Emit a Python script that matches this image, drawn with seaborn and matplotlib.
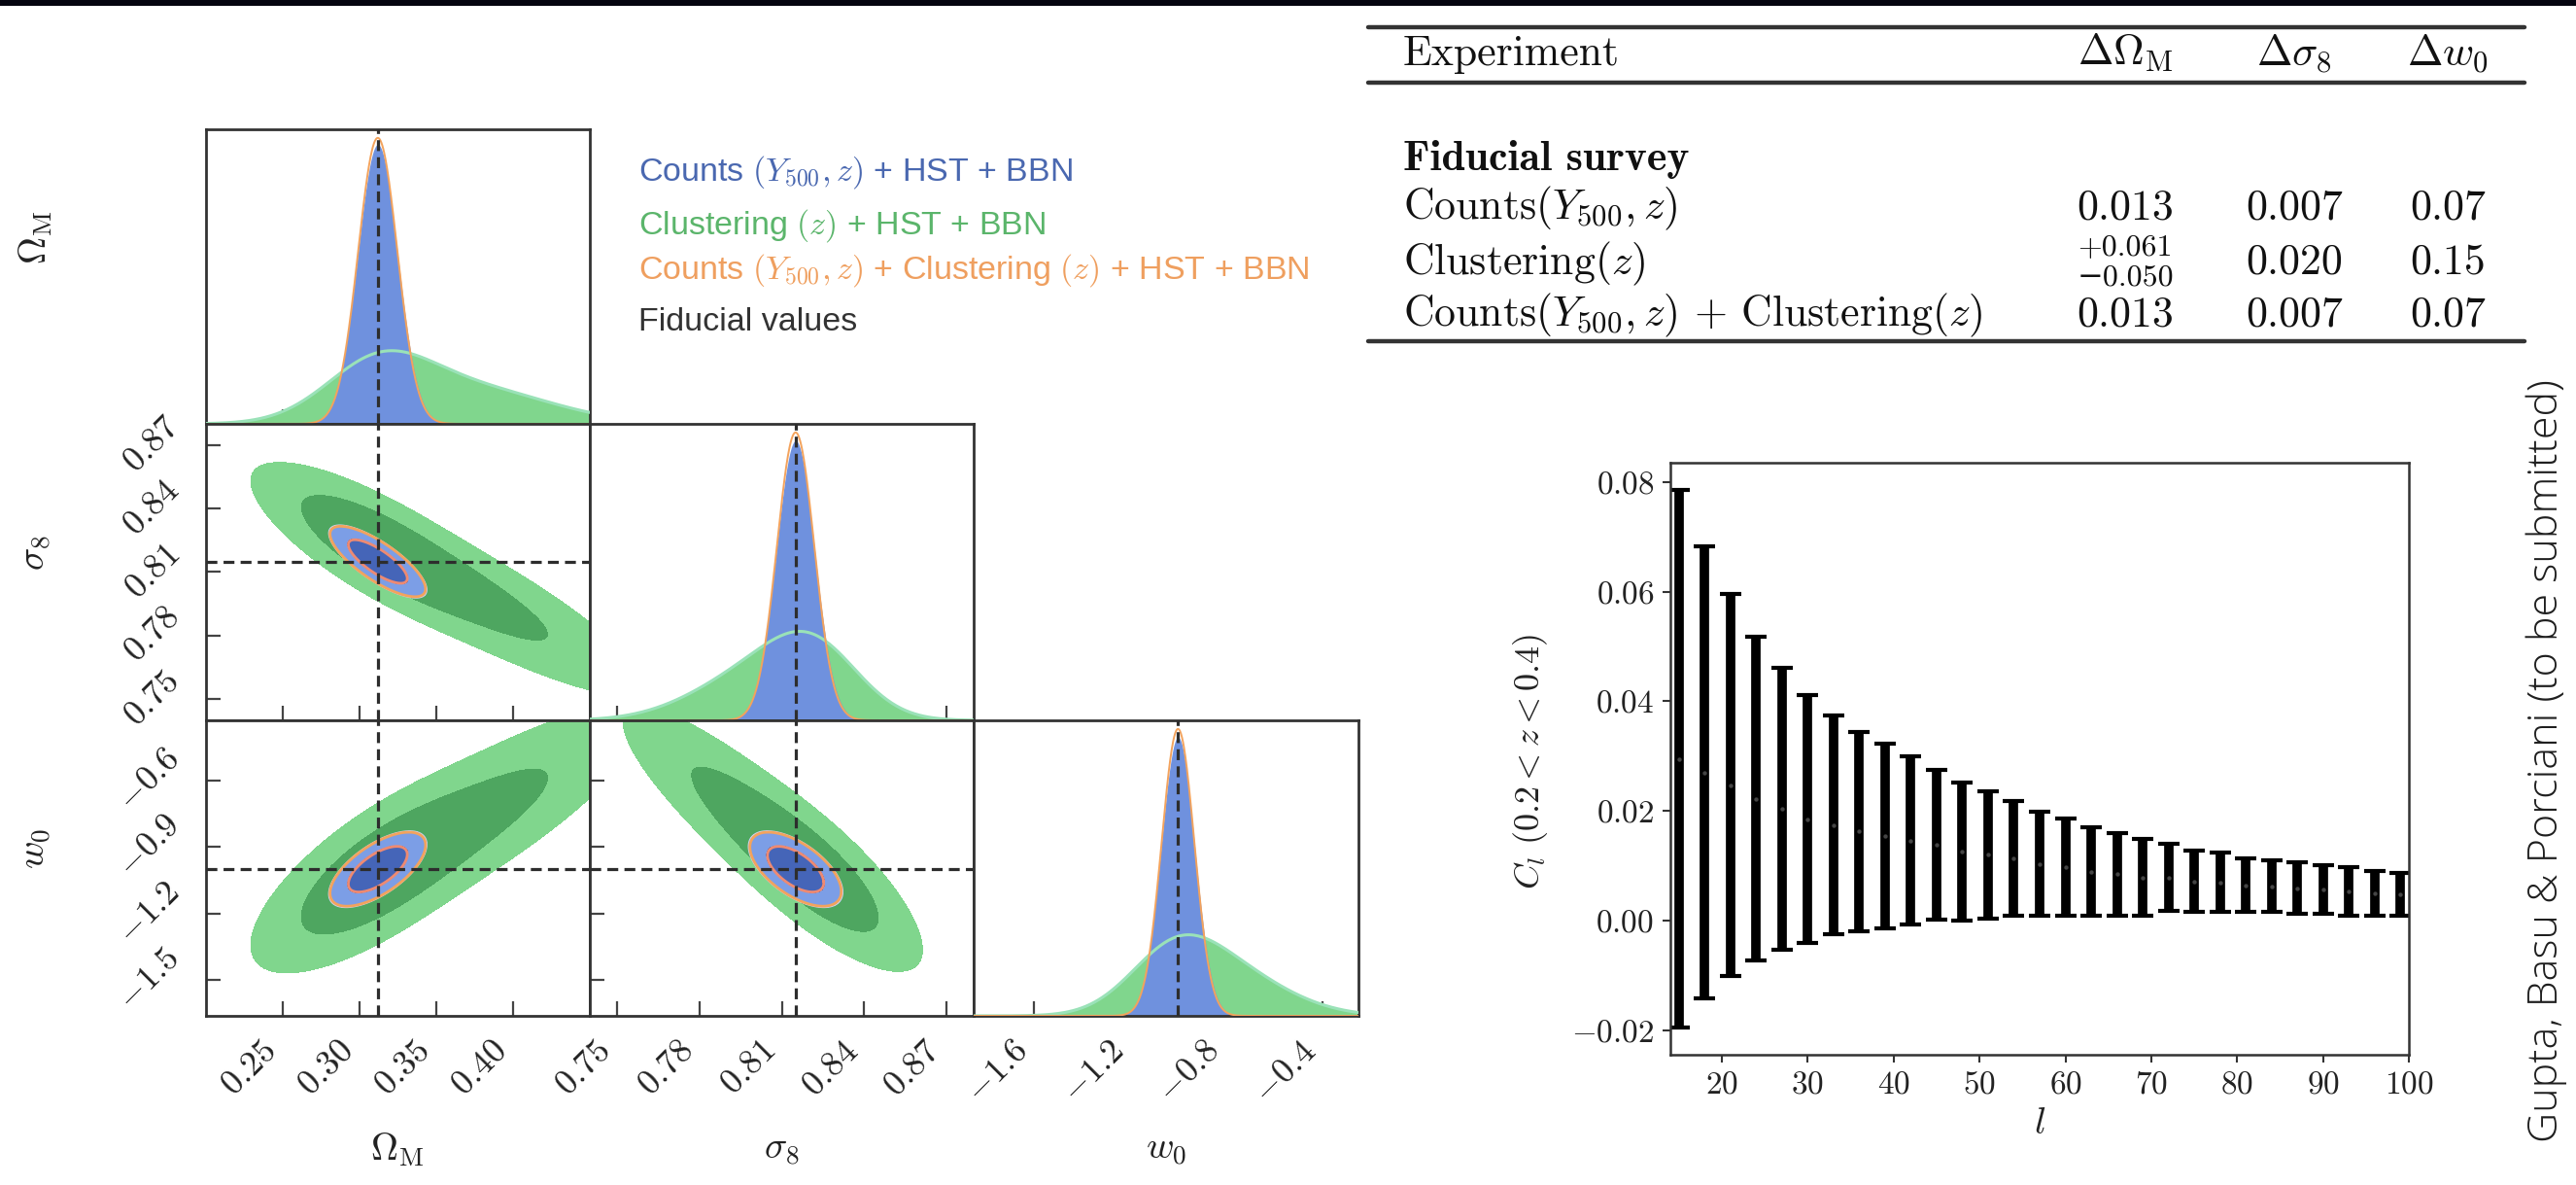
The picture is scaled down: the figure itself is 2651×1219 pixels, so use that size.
import numpy as np
import matplotlib
matplotlib.use('Agg')
import matplotlib.pyplot as plt
import seaborn as sns
from matplotlib.lines import Line2D
from matplotlib.patches import Rectangle
from matplotlib.ticker import FixedLocator, NullLocator

# ------------------------------------------------------------------ data
param_labels = [r'$\Omega_{\rm M}$', r'$\sigma_8$', r'$w_0$']
fiducial = [0.312, 0.815, -1.0]
x_lims = [(0.20, 0.45), (0.74, 0.88), (-1.85, -0.25)]
y_lims = [None, (0.74, 0.88), (-1.66, -0.33)]
x_ticks = [[0.25, 0.30, 0.35, 0.40], [0.75, 0.78, 0.81, 0.84, 0.87], [-1.6, -1.2, -0.8, -0.4]]
y_ticks = [None, [0.75, 0.78, 0.81, 0.84, 0.87], [-1.5, -1.2, -0.9, -0.6]]

# Counts (Y500, z) + HST + BBN : Gaussian forecast (sigmas from the table)
counts_sigma = [0.013, 0.007, 0.07]
counts_corr = [[1.0, -0.78, 0.65], [-0.78, 1.0, -0.6], [0.65, -0.6, 1.0]]
# Counts + Clustering
combined_sigma = [0.0127, 0.0068, 0.068]
combined_corr = [[1.0, -0.78, 0.65], [-0.78, 1.0, -0.6], [0.65, -0.6, 1.0]]
# Clustering (z) + HST + BBN : skewed Omega_M marginal, sigma8 / w0 degenerate with Omega_M
clust_om_means = [0.312, 0.372]
clust_om_sigmas = [0.034, 0.052]
clust_om_weights = [0.5, 0.5]
clust_s8_line = [0.822, -0.375]   # value at fiducial Omega_M, slope
clust_w0_line = [-1.02, 3.9]
clust_cond_sigma = [0.0105, 0.13]
clust_cond_corr = -0.5

legend_labels = [r'Counts $(Y_{500}, z)$ + HST + BBN',
                 r'Clustering $(z)$ + HST + BBN',
                 r'Counts $(Y_{500}, z)$ + Clustering $(z)$ + HST + BBN',
                 'Fiducial values']

# angular power spectrum forecast
ell = [15, 18, 21, 24, 27, 30, 33, 36, 39, 42, 45, 48, 51, 54, 57, 60, 63, 66, 69, 72,
       75, 78, 81, 84, 87, 90, 93, 96, 99]
cl = [0.0295, 0.0270, 0.0247, 0.0222, 0.0204, 0.0185, 0.0174, 0.0162, 0.0154, 0.0146,
      0.0138, 0.0126, 0.0120, 0.0113, 0.0103, 0.0097, 0.0089, 0.0084, 0.0078, 0.0078,
      0.0071, 0.0069, 0.0064, 0.0062, 0.0059, 0.0056, 0.0053, 0.0050, 0.0048]
cl_err = [0.0491, 0.0413, 0.0349, 0.0295, 0.0257, 0.0227, 0.0200, 0.0182, 0.0168, 0.0153,
          0.0136, 0.0126, 0.0116, 0.0105, 0.0095, 0.0089, 0.0081, 0.0076, 0.0070, 0.0061,
          0.0056, 0.0054, 0.0049, 0.0047, 0.0047, 0.0044, 0.0044, 0.0041, 0.0039]

# table
table_header = ['Experiment', r'$\Delta\Omega_{\rm M}$', r'$\Delta\sigma_8$', r'$\Delta w_0$']
table_section = 'Fiducial survey'
table_rows = [r'Counts$(Y_{500}, z)$', r'Clustering$(z)$', r'Counts$(Y_{500}, z)$ + Clustering$(z)$']
table_dom = ['0.013', None, '0.013']
table_dom_asym = ['+0.061', '\u22120.050']
table_ds8 = ['0.007', '0.020', '0.007']
table_dw0 = ['0.07', '0.15', '0.07']

credit = 'Gupta, Basu & Porciani (to be submitted)'

# ------------------------------------------------------------------ style
sns.set_theme(style='ticks')
plt.rcParams.update({
    'font.family': ['cmr10', 'DejaVu Serif'],
    'mathtext.fontset': 'cm',
    'axes.formatter.use_mathtext': True,
    'axes.unicode_minus': True,
    'axes.linewidth': 2.0,
    'axes.edgecolor': '#333333',
})

G_LIGHT = '#80d68d'
G_DARK = '#4ea660'
G_LINE = '#9ae2b8'
B_FILL = '#6f91de'
B_LIGHT = '#7c9ee6'
B_DARK = '#4565b8'
ORANGE = '#f3a35d'
DASH = '#2d2d2d'

W, H = 2651, 1219
fig = plt.figure(figsize=(W / 100, H / 100), dpi=100)


def fx(x):
    return x / W


def fy(y):
    return 1 - y / H


def add_ax(x0, y0, x1, y1):
    return fig.add_axes([fx(x0), fy(y1), (x1 - x0) / W, (y1 - y0) / H])


def gauss(x, m, s):
    return np.exp(-0.5 * ((x - m) / s) ** 2) / (s * np.sqrt(2 * np.pi))


def gauss2d(X, Y, mx, my, sx, sy, rho):
    dx = (X - mx) / sx
    dy = (Y - my) / sy
    q = (dx * dx - 2 * rho * dx * dy + dy * dy) / (1 - rho ** 2)
    return np.exp(-0.5 * q) / (2 * np.pi * sx * sy * np.sqrt(1 - rho ** 2))


def mass_levels(P, fracs=(0.95, 0.68)):
    flat = np.sort(P.ravel())[::-1]
    c = np.cumsum(flat)
    c /= c[-1]
    return [flat[min(np.searchsorted(c, f), flat.size - 1)] for f in fracs]


def clust_om_pdf(om):
    p = np.zeros_like(om, dtype=float)
    for m, s, w in zip(clust_om_means, clust_om_sigmas, clust_om_weights):
        p += w * gauss(om, m, s)
    return p


def clust_line(om, k):
    a, b = (clust_s8_line, clust_w0_line)[k]
    return a + b * (om - fiducial[0])


# clustering densities
OMg = np.linspace(0.10, 0.80, 600)
S8g = np.linspace(0.60, 1.02, 500)
W0g = np.linspace(-3.2, 1.2, 500)
dom = OMg[1] - OMg[0]
pom = clust_om_pdf(OMg)
s1, s2 = clust_cond_sigma
rho_c = clust_cond_corr
P_os = pom[None, :] * gauss(S8g[:, None], clust_line(OMg, 0)[None, :], s1)
P_ow = pom[None, :] * gauss(W0g[:, None], clust_line(OMg, 1)[None, :], s2)
SS, WW = np.meshgrid(S8g, W0g)
P_sw = np.zeros_like(SS)
for om_i, p_i in zip(OMg[::2], pom[::2]):
    if p_i < 1e-5 * pom.max():
        continue
    P_sw += p_i * gauss2d(SS, WW, clust_line(om_i, 0), clust_line(om_i, 1), s1, s2, rho_c)
clust_grids = {
    (1, 0): (OMg, S8g, P_os),
    (2, 0): (OMg, W0g, P_ow),
    (2, 1): (S8g, W0g, P_sw),
}
clust_1d = [(OMg, pom), (S8g, P_os.sum(axis=1) * dom), (W0g, P_ow.sum(axis=1) * dom)]

# ------------------------------------------------------------------ corner plot
col_edges = [211.7, 607.0, 1002.3, 1397.6]
row_edges = [133, 436, 741, 1045]
axes = {}
for r in range(3):
    for c in range(r + 1):
        axes[(r, c)] = add_ax(col_edges[c], row_edges[r], col_edges[c + 1], row_edges[r + 1])

for (r, c), ax in axes.items():
    ax.set_facecolor('white')
    ax.set_xlim(*x_lims[c])
    for sp in ax.spines.values():
        sp.set_linewidth(2.0)
        sp.set_color('#333333')
    if r == c:
        xs_g, ys_g = clust_1d[c]
        xs = np.linspace(x_lims[c][0] - 0.02 * abs(x_lims[c][0]), x_lims[c][1], 800)
        yb = gauss(xs, fiducial[c], counts_sigma[c])
        yo = gauss(xs, fiducial[c], combined_sigma[c])
        ax.fill_between(xs_g, ys_g, color=G_LIGHT, lw=0, zorder=1)
        ax.fill_between(xs, yb, color=B_FILL, lw=0, zorder=2)
        sns.lineplot(x=xs_g, y=ys_g, ax=ax, color=G_LINE, lw=2.2, estimator=None, zorder=3)
        sns.lineplot(x=xs, y=yo, ax=ax, color=ORANGE, lw=1.4, estimator=None, zorder=4)
        ax.set_ylim(0, 1.03 * max(yo.max(), yb.max()))
        ax.yaxis.set_major_locator(NullLocator())
        ax.axvline(fiducial[c], color=DASH, lw=2.3, ls=(0, (3.5, 2)), zorder=6)
    else:
        ax.set_ylim(*y_lims[r])
        Xg, Yg, P = clust_grids[(r, c)]
        l95, l68 = mass_levels(P)
        ax.contourf(Xg, Yg, P, levels=[l95, l68, P.max() * 1.1], colors=[G_LIGHT, G_DARK], zorder=1)
        for sig, corr, kind in ((counts_sigma, counts_corr, 'b'), (combined_sigma, combined_corr, 'o')):
            xg = np.linspace(fiducial[c] - 6 * sig[c], fiducial[c] + 6 * sig[c], 300)
            yg = np.linspace(fiducial[r] - 6 * sig[r], fiducial[r] + 6 * sig[r], 300)
            XX, YY = np.meshgrid(xg, yg)
            Pb = gauss2d(XX, YY, fiducial[c], fiducial[r], sig[c], sig[r], corr[r][c])
            b95, b68 = mass_levels(Pb)
            if kind == 'b':
                ax.contourf(XX, YY, Pb, levels=[b95, b68, Pb.max() * 1.1],
                            colors=[B_LIGHT, B_DARK], zorder=2)
                ax.contour(XX, YY, Pb, levels=[b95], colors=['#c9d3ee'], linewidths=1.2, zorder=3)
            else:
                ax.contour(XX, YY, Pb, levels=[b95, b68], colors=[ORANGE, '#ee8a72'],
                           linewidths=2.0, zorder=4)
        ax.axvline(fiducial[c], color=DASH, lw=2.3, ls=(0, (3.5, 2)), zorder=6)
        ax.axhline(fiducial[r], color=DASH, lw=2.3, ls=(0, (3.5, 2)), zorder=6)
        ax.yaxis.set_major_locator(FixedLocator(y_ticks[r]))
    ax.xaxis.set_major_locator(FixedLocator(x_ticks[c]))
    ax.set_xlabel('')
    ax.set_ylabel('')
    ax.tick_params(direction='in', length=11, width=1.6, color='#444444',
                   labelsize=26, pad=15, labelcolor='#222222')
    ax.tick_params(axis='x', labelbottom=(r == 2))
    ax.tick_params(axis='y', labelleft=(c == 0 and r > 0))
    if r == 2:
        for lab in ax.get_xticklabels():
            lab.set_rotation(45)
            lab.set_ha('right')
            lab.set_va('top')
    if c == 0 and r > 0:
        for lab in ax.get_yticklabels():
            lab.set_rotation(45)
            lab.set_ha('right')
            lab.set_va('center')

row_centers = [(row_edges[i] + row_edges[i + 1]) / 2 for i in range(3)]
col_centers = [(col_edges[i] + col_edges[i + 1]) / 2 for i in range(3)]
ylabel_y = [row_centers[0] - 40, row_centers[1] - 20, row_centers[2] - 20]
for i in range(3):
    fig.text(fx(37), fy(ylabel_y[i]), param_labels[i], rotation=90, ha='center',
             va='center', fontsize=28, color='#222222')
    fig.text(fx(col_centers[i]), fy(1183), param_labels[i], ha='center', va='center',
             fontsize=28, color='#222222')

# legend
leg_colors = ['#4a68b0', '#5bb56b', '#ef9f5f', '#333333']
leg_y = [177, 232, 278, 331]
for lab, colr, yy in zip(legend_labels, leg_colors, leg_y):
    fig.text(fx(657), fy(yy), lab, color=colr, fontsize=24.5, ha='left', va='center',
             family=['Liberation Sans', 'DejaVu Sans'])

# ------------------------------------------------------------------ C_l panel
axc = add_ax(1719, 476, 2479, 1085)
axc.set_facecolor('white')
axc.errorbar(ell, cl, yerr=cl_err, fmt='none', ecolor='black', elinewidth=7,
             capsize=8, capthick=3, zorder=2)
sns.scatterplot(x=ell, y=cl, ax=axc, color='#444444', s=10, linewidth=0, zorder=3)
axc.set_xlim(14, 100)
axc.xaxis.set_major_locator(FixedLocator([20, 30, 40, 50, 60, 70, 80, 90, 100]))
axc.yaxis.set_major_locator(FixedLocator([-0.02, 0.0, 0.02, 0.04, 0.06, 0.08]))
axc.set_xlabel('')
axc.set_ylabel('')
for sp in axc.spines.values():
    sp.set_linewidth(1.8)
    sp.set_color('#333333')
axc.tick_params(direction='out', length=6, width=1.5, color='#333333',
                labelsize=24, pad=6, labelcolor='#222222')
fig.text(fx(2099), fy(1156), r'$l$', ha='center', va='center', fontsize=28, color='#222222')
fig.text(fx(1575), fy(783), r'$C_l\ (0.2 < z < 0.4)$', rotation=90, ha='center',
         va='center', fontsize=26, color='#222222')

# ------------------------------------------------------------------ table
TFS = 31.5
for yy in (28, 85, 351):
    fig.add_artist(Line2D([fx(1408), fx(2598)], [fy(yy)] * 2, lw=3.2, color='#333333'))
col_x = [2187, 2361, 2519]
fig.text(fx(1444), fy(67), table_header[0], fontsize=TFS, ha='left', va='baseline', color='#111111')
for hx, lab in zip(col_x, table_header[1:]):
    fig.text(fx(hx), fy(67), lab, fontsize=TFS, ha='center', va='baseline', color='#111111')
fig.text(fx(1444), fy(175), table_section, fontsize=TFS, ha='left', va='baseline',
         family=['cmb10', 'DejaVu Serif'], color='#111111')
row_base = [225, 282, 335]
for i, yb in enumerate(row_base):
    fig.text(fx(1444), fy(yb), table_rows[i], fontsize=TFS, ha='left', va='baseline', color='#111111')
    if table_dom[i] is not None:
        fig.text(fx(col_x[0]), fy(yb), table_dom[i], fontsize=TFS, ha='center', va='baseline', color='#111111')
    fig.text(fx(col_x[1]), fy(yb), table_ds8[i], fontsize=TFS, ha='center', va='baseline', color='#111111')
    fig.text(fx(col_x[2]), fy(yb), table_dw0[i], fontsize=TFS, ha='center', va='baseline', color='#111111')
fig.text(fx(col_x[0]), fy(262), table_dom_asym[0], fontsize=23, ha='center', va='baseline', color='#111111')
fig.text(fx(col_x[0]), fy(293), table_dom_asym[1], fontsize=23, ha='center', va='baseline', color='#111111')

# ------------------------------------------------------------------ credit and top band
fig.text(fx(2621), fy(783), credit, rotation=90, ha='center', va='center', fontsize=31,
         family=['Open Sans', 'Roboto', 'DejaVu Sans'], fontweight='light', color='#1e1e1e')
fig.add_artist(Rectangle((0, fy(6)), 1, 6 / H, transform=fig.transFigure,
                         facecolor='#04040f', edgecolor='none', zorder=20))

fig.savefig('out.png', dpi=100)
